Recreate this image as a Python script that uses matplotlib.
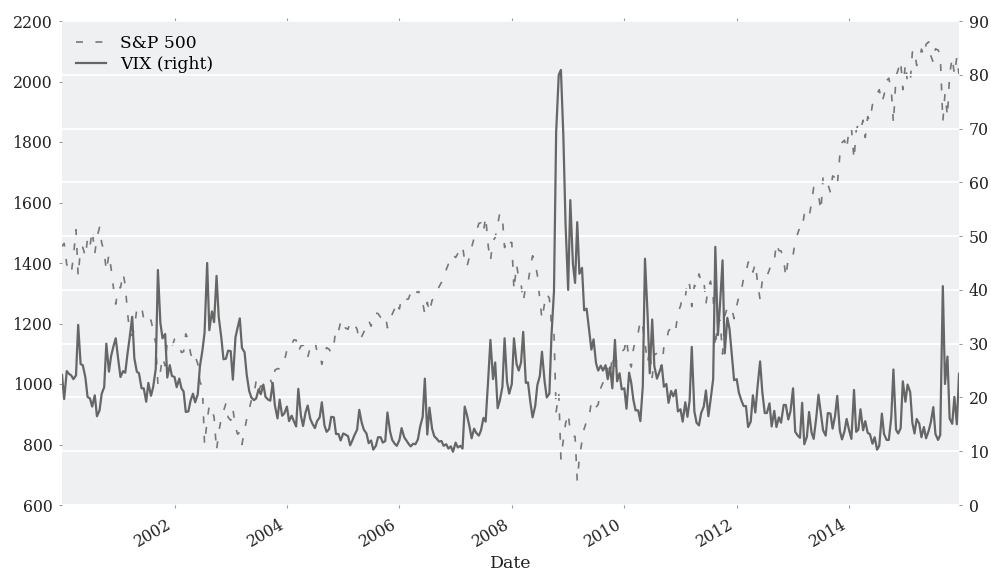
import matplotlib
matplotlib.use('Agg')
import matplotlib.pyplot as plt
import matplotlib.dates as mdates
import pandas as pd

# semi-monthly readings (1st and 15th of each month), 2000-01 .. 2015-12
dates = pd.date_range('2000-01-01', '2015-12-15', freq='SMS')

sp500 = [
    # 2000
    1455, 1465, 1394, 1387, 1366, 1420, 1510, 1357, 1452, 1452, 1421, 1481,
    1455, 1509, 1431, 1484, 1518, 1466, 1437, 1374, 1429, 1382, 1315, 1264,
    # 2001
    1320, 1318, 1366, 1326, 1240, 1173, 1160, 1183, 1249, 1249, 1256, 1214,
    1224, 1209, 1211, 1178, 1133, 1000, 1040, 1089, 1060, 1142, 1139, 1123,
    # 2002
    1148, 1139, 1130, 1104, 1107, 1166, 1147, 1102, 1077, 1091, 1067, 1007,
    990, 800, 880, 930, 916, 890, 780, 841, 886, 910, 936, 890,
    # 2003
    880, 918, 856, 834, 841, 800, 848, 885, 917, 946, 964, 1010,
    975, 994, 990, 990, 1008, 1015, 996, 1046, 1051, 1050, 1058, 1075,
    # 2004
    1112, 1133, 1131, 1146, 1145, 1107, 1126, 1128, 1107, 1088, 1121, 1133,
    1141, 1107, 1102, 1065, 1104, 1120, 1115, 1103, 1130, 1184, 1174, 1205,
    # 2005
    1212, 1185, 1181, 1206, 1204, 1197, 1181, 1142, 1157, 1172, 1192, 1210,
    1191, 1227, 1234, 1233, 1220, 1227, 1229, 1186, 1207, 1231, 1249, 1271,
    # 2006
    1248, 1287, 1280, 1280, 1281, 1303, 1295, 1289, 1311, 1294, 1270, 1230,
    1270, 1237, 1277, 1285, 1304, 1321, 1336, 1366, 1378, 1396, 1401, 1427,
    # 2007
    1418, 1431, 1438, 1456, 1407, 1387, 1421, 1452, 1482, 1502, 1531, 1533,
    1503, 1553, 1455, 1407, 1474, 1484, 1527, 1565, 1549, 1451, 1481, 1467,
    # 2008
    1468, 1310, 1395, 1349, 1331, 1273, 1323, 1334, 1386, 1424, 1400, 1360,
    1280, 1214, 1267, 1298, 1283, 1193, 1166, 908, 969, 752, 816, 869,
    # 2009
    903, 843, 826, 827, 680, 756, 811, 852, 877, 883, 942, 923,
    923, 932, 987, 1004, 998, 1052, 1030, 1096, 1036, 1093, 1108, 1107,
    # 2010
    1115, 1150, 1074, 1056, 1115, 1150, 1169, 1211, 1187, 1136, 1070, 1115,
    1022, 1096, 1102, 1079, 1049, 1125, 1141, 1176, 1184, 1197, 1181, 1236,
    # 2011
    1258, 1293, 1286, 1343, 1327, 1256, 1326, 1319, 1364, 1338, 1345, 1265,
    1321, 1340, 1292, 1120, 1219, 1209, 1099, 1224, 1253, 1257, 1247, 1216,
    # 2012
    1258, 1290, 1312, 1350, 1366, 1402, 1408, 1370, 1398, 1338, 1278, 1342,
    1362, 1356, 1379, 1405, 1407, 1465, 1441, 1440, 1412, 1353, 1416, 1413,
    # 2013
    1426, 1472, 1498, 1520, 1515, 1561, 1569, 1552, 1598, 1650, 1631, 1626,
    1573, 1683, 1686, 1661, 1633, 1688, 1682, 1656, 1757, 1798, 1806, 1775,
    # 2014
    1848, 1848, 1742, 1838, 1859, 1841, 1872, 1815, 1884, 1870, 1924, 1937,
    1960, 1973, 1931, 1955, 2003, 2011, 1972, 1862, 2018, 2039, 2068, 1973,
    # 2015
    2059, 1993, 1995, 2097, 2105, 2053, 2068, 2107, 2086, 2123, 2131, 2085,
    2063, 2108, 2104, 2091, 1868, 1960, 1884, 2023, 2079, 2023, 2081, 2022,
]

vix = [
    # 2000
    24.2, 19.7, 24.9, 24.4, 24.1, 23.4, 24.1, 33.5, 26.2, 26.0, 23.7, 20.1,
    19.8, 18.3, 20.4, 16.5, 17.6, 20.7, 21.9, 30.0, 24.8, 27.7, 29.6, 31.0,
    # 2001
    26.9, 23.8, 24.9, 24.6, 28.0, 31.0, 35.0, 27.3, 24.8, 24.5, 21.7, 21.7,
    19.2, 22.7, 20.3, 21.9, 25.3, 43.7, 33.9, 31.0, 31.8, 23.7, 26.0, 24.0,
    # 2002
    23.8, 21.9, 23.5, 21.7, 21.1, 17.3, 17.4, 19.4, 20.7, 19.1, 20.6, 25.8,
    28.7, 32.0, 45.0, 32.5, 36.0, 34.0, 42.6, 35.0, 31.1, 27.1, 27.2, 28.7,
    # 2003
    28.6, 23.3, 31.2, 33.0, 34.7, 29.2, 28.4, 24.2, 21.2, 20.0, 19.5, 19.8,
    21.5, 20.6, 22.4, 20.1, 19.6, 19.4, 22.7, 18.5, 16.1, 19.6, 16.6, 17.0,
    # 2004
    18.3, 15.6, 16.6, 15.6, 14.6, 21.6, 16.6, 14.7, 17.2, 18.5, 16.0, 15.1,
    14.3, 15.6, 16.3, 19.1, 14.8, 13.6, 14.1, 16.4, 16.3, 13.2, 13.2, 12.0,
    # 2005
    13.3, 13.1, 12.8, 11.1, 12.0, 13.0, 14.0, 17.7, 15.3, 14.0, 13.3, 11.5,
    12.0, 10.3, 11.0, 12.6, 12.6, 11.6, 11.9, 17.2, 13.7, 12.1, 11.4, 11.0,
    # 2006
    12.1, 14.3, 12.6, 12.0, 11.4, 10.9, 11.4, 11.3, 12.2, 14.5, 16.4, 23.5,
    13.1, 18.1, 14.2, 12.8, 12.3, 11.8, 11.9, 11.0, 11.3, 10.5, 10.9, 9.9,
    # 2007
    11.6, 10.7, 11.0, 10.5, 18.3, 16.8, 14.6, 12.4, 14.2, 13.4, 12.9, 13.9,
    16.2, 15.5, 23.5, 30.7, 23.4, 26.5, 18.0, 19.4, 22.0, 31.0, 22.9, 20.7,
    # 2008
    22.5, 31.0, 26.2, 25.0, 26.5, 32.2, 22.7, 22.8, 19.0, 16.3, 18.4, 22.3,
    24.0, 28.5, 23.0, 20.0, 20.7, 31.7, 39.8, 69.3, 80.0, 80.9, 68.5, 52.3,
    # 2009
    40.0, 56.7, 44.8, 41.3, 52.6, 43.0, 44.1, 36.2, 36.5, 33.1, 28.9, 30.8,
    26.4, 25.0, 25.9, 25.0, 26.0, 23.4, 25.6, 21.7, 30.7, 23.0, 24.5, 21.5,
    # 2010
    21.7, 17.9, 24.6, 22.7, 19.5, 17.6, 17.6, 15.6, 22.1, 45.8, 35.5, 24.5,
    34.5, 25.8, 23.5, 24.6, 26.0, 22.0, 22.5, 19.0, 21.2, 20.2, 21.4, 17.4,
    # 2011
    17.8, 15.5, 19.1, 16.4, 19.4, 29.4, 17.4, 15.3, 14.8, 17.1, 18.3, 21.3,
    16.5, 19.5, 23.4, 48.0, 31.6, 37.5, 45.5, 28.2, 34.8, 32.8, 27.8, 23.2,
    # 2012
    23.4, 20.9, 19.4, 18.4, 18.4, 14.5, 15.5, 20.4, 17.2, 21.9, 26.7, 21.1,
    17.1, 17.1, 18.9, 14.6, 17.5, 14.5, 16.3, 15.3, 18.6, 18.6, 15.9, 17.4,
    # 2013
    21.7, 13.6, 12.9, 12.5, 19.0, 11.3, 12.7, 17.3, 13.5, 12.3, 16.3, 20.5,
    16.9, 13.9, 12.9, 17.1, 17.0, 14.2, 16.6, 20.3, 13.8, 12.2, 13.7, 16.0,
    # 2014
    13.8, 12.3, 21.4, 13.6, 14.0, 17.8, 13.9, 15.6, 13.4, 13.2, 11.4, 12.6,
    10.3, 11.0, 17.0, 13.2, 12.1, 12.1, 16.3, 25.2, 14.0, 13.3, 14.3, 23.0,
    # 2015
    19.2, 22.4, 21.0, 15.3, 13.3, 16.0, 15.1, 12.6, 14.5, 12.4, 13.8, 15.4,
    18.2, 13.2, 12.1, 13.0, 40.7, 22.5, 27.6, 16.1, 15.1, 20.1, 15.0, 24.4,
]

year_ticks = [pd.Timestamp(f'{y}-01-01') for y in range(2002, 2015, 2)]

plt.rcParams['font.family'] = 'DejaVu Serif'
plt.rcParams['lines.scale_dashes'] = False

fig = plt.figure(figsize=(9.91, 5.75), dpi=100)
ax = fig.add_axes([62 / 991, 70 / 575, 897 / 991, 484 / 575])
ax.set_facecolor('#eff0f2')
ax2 = ax.twinx()

l1, = ax.plot(dates, sp500, color='#777777', lw=1.2, dashes=(5, 9), label='S&P 500')
l2, = ax2.plot(dates, vix, color='#666666', lw=1.6, label='VIX (right)')

ax.set_xlim(dates[0], dates[-1])
ax.set_ylim(600, 2200)
ax2.set_ylim(0, 90)
ax.set_yticks(range(600, 2201, 200))
ax2.set_yticks(range(0, 91, 10))
ax.set_xticks(year_ticks)
ax.xaxis.set_major_formatter(mdates.DateFormatter('%Y'))
plt.setp(ax.get_xticklabels(), rotation=30, ha='right')

for a in (ax, ax2):
    for s in a.spines.values():
        s.set_visible(False)
    a.tick_params(length=2, width=0.8, color='#999999', labelsize=11.3,
                  labelcolor='#222222', pad=5)
ax.tick_params(axis='x', top=True, pad=6)

ax.grid(False)
ax2.set_axisbelow(True)
ax2.grid(axis='y', color='white', lw=1.3)
ax2.grid(axis='x', visible=False)

ax.set_xlabel('Date', fontsize=12.5, color='#222222', labelpad=3)

ax2.legend([l1, l2], ['S&P 500', 'VIX (right)'], loc='upper left', frameon=False,
           fontsize=12.3, handlelength=1.75, handletextpad=0.85, labelspacing=0.25,
           borderaxespad=0.4)

fig.savefig('out.png', dpi=100)
